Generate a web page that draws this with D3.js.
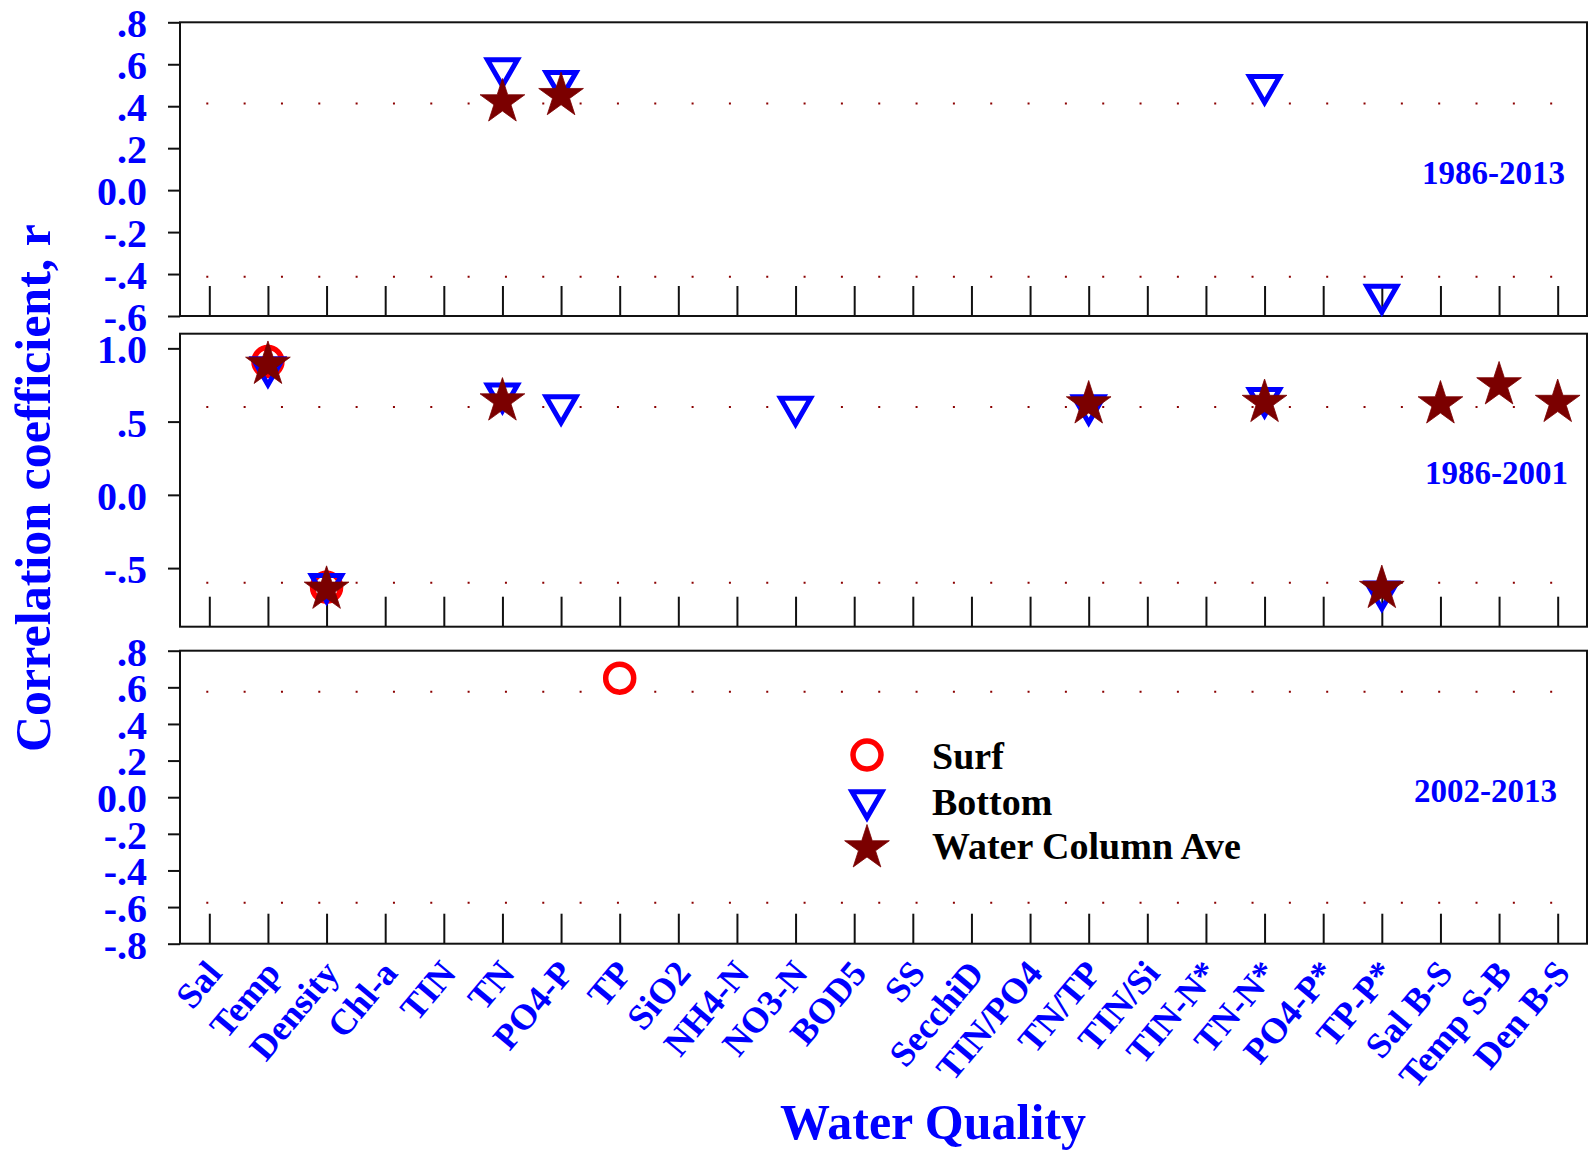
<!DOCTYPE html>
<html>
<head>
<meta charset="utf-8">
<script src="https://cdn.jsdelivr.net/npm/d3@7"></script>
<style>
  body { margin: 0; background: #fff; }
  svg text { font-family: "Liberation Serif", "Times New Roman", serif; font-weight: bold; }
</style>
</head>
<body>
<div id="chart"></div>
<script>
// categories on the x axis (water quality variables)
var categories = ["Sal", "Temp", "Density", "Chl-a", "TIN", "TN", "PO4-P", "TP", "SiO2", "NH4-N",
    "NO3-N", "BOD5", "SS", "SecchiD", "TIN/PO4", "TN/TP", "TIN/Si", "TIN-N*", "TN-N*", "PO4-P*",
    "TP-P*", "Sal B-S", "Temp S-B", "Den B-S"];

var _ = null;
//                  Sal Temp  Dens  Chl TIN  TN    PO4P  TP    SiO2 NH4 NO3   BOD SS Sec TP4 TNTP  TSi TINN TNN   PO4* TPP*   SalBS TempSB DenBS
var surf_8613   = [_,  _,    _,     _,  _,   _,    _,    _,    _,   _,  _,    _,  _, _,  _,  _,    _,  _,   _,    _,   _,     _,    _,    _];
var bottom_8613 = [_,  _,    _,     _,  _,   0.58, 0.52, _,    _,   _,  _,    _,  _, _,  _,  _,    _,  _,   0.50, _,   -0.50, _,    _,    _];
var ave_8613    = [_,  _,    _,     _,  _,   0.42, 0.45, _,    _,   _,  _,    _,  _, _,  _,  _,    _,  _,   _,    _,   _,     _,    _,    _];

var surf_8601   = [_,  0.91, -0.63, _,  _,   _,    _,    _,    _,   _,  _,    _,  _, _,  _,  _,    _,  _,   _,    _,   _,     _,    _,    _];
var bottom_8601 = [_,  0.87, -0.61, _,  _,   0.69, 0.61, _,    _,   _,  0.60, _,  _, _,  _,  0.61, _,  _,   0.66, _,   -0.66, _,    _,    _];
var ave_8601    = [_,  0.89, -0.645,_,  _,   0.64, _,    _,    _,   _,  _,    _,  _, _,  _,  0.62, _,  _,   0.63, _,   -0.64, 0.62, 0.75, 0.63];

var surf_0213   = [_,  _,    _,     _,  _,   _,    _,    0.65, _,   _,  _,    _,  _, _,  _,  _,    _,  _,   _,    _,   _,     _,    _,    _];
var bottom_0213 = [_,  _,    _,     _,  _,   _,    _,    _,    _,   _,  _,    _,  _, _,  _,  _,    _,  _,   _,    _,   _,     _,    _,    _];
var ave_0213    = [_,  _,    _,     _,  _,   _,    _,    _,    _,   _,  _,    _,  _, _,  _,  _,    _,  _,   _,    _,   _,     _,    _,    _];

// significance levels (dotted lines)
var signif = [0.413, 0.60, 0.576];
var periods = ["1986-2013", "1986-2001", "2002-2013"];

// y ticks
var ticks_8613 = [0.8, 0.6, 0.4, 0.2, 0, -0.2, -0.4, -0.6];
var labels_8613 = [".8", ".6", ".4", ".2", "0.0", "-.2", "-.4", "-.6"];
var ticks_8601 = [1.0, 0.5, 0, -0.5];
var labels_8601 = ["1.0", ".5", "0.0", "-.5"];
var ticks_0213 = [0.8, 0.6, 0.4, 0.2, 0, -0.2, -0.4, -0.6, -0.8];
var labels_0213 = [".8", ".6", ".4", ".2", "0.0", "-.2", "-.4", "-.6", "-.8"];

var legendNames = ["Surf", "Bottom", "Water Column Ave"];

var width = 1588, height = 1153;
var left = 180, right = 1587;

var svg = d3.select("#chart").append("svg")
    .attr("width", width)
    .attr("height", height);

var x = d3.scalePoint()
    .domain(categories)
    .range([left, right])
    .padding(0.5);

var panels = [
    {top: 22.3, bottom: 316, domain: [-0.6, 0.8], ticks: ticks_8613, labels: labels_8613,
        surf: surf_8613, bottom_s: bottom_8613, ave: ave_8613, lab: {x: 1565, y: 184}},
    {top: 333.7, bottom: 626.7, domain: [-0.9, 1.1], ticks: ticks_8601, labels: labels_8601,
        surf: surf_8601, bottom_s: bottom_8601, ave: ave_8601, lab: {x: 1568, y: 484}},
    {top: 650.7, bottom: 943.7, domain: [-0.8, 0.8], ticks: ticks_0213, labels: labels_0213,
        surf: surf_0213, bottom_s: bottom_0213, ave: ave_0213, lab: {x: 1557, y: 802}}
];

var circleSym = d3.symbol().type(d3.symbolCircle).size(Math.PI * 14 * 14);
var triSym = d3.symbol().type(d3.symbolTriangle).size(390);
var starSym = d3.symbol().type(d3.symbolStar).size(620);

function drawSymbol(g, kind, px, py) {
    if (kind == "surf") {
        g.append("path").attr("d", circleSym())
            .attr("transform", "translate(" + px + "," + py + ")")
            .attr("fill", "none").attr("stroke", "#ff0000").attr("stroke-width", 5.5);
    } else if (kind == "bottom") {
        g.append("path").attr("d", triSym())
            .attr("transform", "translate(" + px + "," + py + ") rotate(180)")
            .attr("fill", "none").attr("stroke", "#0000ff").attr("stroke-width", 5);
    } else {
        g.append("path").attr("d", starSym())
            .attr("transform", "translate(" + px + "," + py + ")")
            .attr("fill", "#7b0000").attr("stroke", "#7b0000").attr("stroke-width", 0.8);
    }
}

panels.forEach(function(p, k) {
    var y = d3.scaleLinear().domain(p.domain).range([p.bottom, p.top]);
    var g = svg.append("g");

    // dotted significance lines
    [signif[k], -signif[k]].forEach(function(v) {
        g.append("line")
            .attr("x1", 206.3).attr("x2", right)
            .attr("y1", y(v)).attr("y2", y(v))
            .attr("stroke", "#8b0000")
            .attr("stroke-width", 2)
            .attr("stroke-dasharray", "2,35.33");
    });

    // y axis
    var ya = g.append("g")
        .attr("transform", "translate(" + left + ",0)")
        .call(d3.axisLeft(y).tickValues(p.ticks)
            .tickFormat(function(d, i) { return p.labels[i]; })
            .tickSize(12).tickSizeOuter(0).tickPadding(21));
    ya.select(".domain").remove();
    ya.selectAll("line").attr("stroke", "#111").attr("stroke-width", 2);
    ya.selectAll("text")
        .attr("fill", "#0000ff")
        .attr("dy", "0.36em")
        .style("font-size", "40px");

    // x ticks pointing inward
    var xa = g.append("g")
        .attr("transform", "translate(0," + p.bottom + ")")
        .call(d3.axisBottom(x).tickSize(-30).tickSizeOuter(0).tickFormat(""));
    xa.select(".domain").remove();
    xa.selectAll("line").attr("stroke", "#111").attr("stroke-width", 2);

    // frame
    g.append("rect")
        .attr("x", left).attr("y", p.top)
        .attr("width", right - left).attr("height", p.bottom - p.top)
        .attr("fill", "none").attr("stroke", "#111").attr("stroke-width", 2);

    // markers: surf, bottom, then average on top
    var marks = g.append("g");
    categories.forEach(function(c, i) {
        if (p.surf[i] != null) drawSymbol(marks, "surf", x(c), y(p.surf[i]));
    });
    categories.forEach(function(c, i) {
        if (p.bottom_s[i] != null) drawSymbol(marks, "bottom", x(c), y(p.bottom_s[i]));
    });
    categories.forEach(function(c, i) {
        if (p.ave[i] != null) drawSymbol(marks, "ave", x(c), y(p.ave[i]));
    });

    // period label
    g.append("text")
        .attr("x", p.lab.x).attr("y", p.lab.y)
        .attr("text-anchor", "end")
        .attr("fill", "#0000ff")
        .style("font-size", "33px")
        .text(periods[k]);
});

// rotated category labels under the bottom panel
svg.append("g").selectAll("text")
    .data(categories)
    .enter().append("text")
    .attr("transform", function(d) { return "translate(" + (x(d) + 14) + ",974) rotate(-50)"; })
    .attr("text-anchor", "end")
    .attr("fill", "#0000ff")
    .style("font-size", "36px")
    .text(function(d) { return d; });

// axis titles
svg.append("text")
    .attr("transform", "translate(50,488) rotate(-90)")
    .attr("text-anchor", "middle")
    .attr("fill", "#0000ff")
    .style("font-size", "50px")
    .text("Correlation coefficient, r");

svg.append("text")
    .attr("x", 933).attr("y", 1139)
    .attr("text-anchor", "middle")
    .attr("fill", "#0000ff")
    .style("font-size", "50px")
    .text("Water Quality");

// legend
var legendY = [755, 800.5, 848];
var legendTextY = [769, 815, 859];
var kinds = ["surf", "bottom", "ave"];
var leg = svg.append("g");
legendNames.forEach(function(name, i) {
    drawSymbol(leg, kinds[i], 867, legendY[i]);
    leg.append("text")
        .attr("x", 932).attr("y", legendTextY[i])
        .attr("fill", "#000")
        .style("font-size", "38px")
        .text(name);
});
</script>
</body>
</html>
